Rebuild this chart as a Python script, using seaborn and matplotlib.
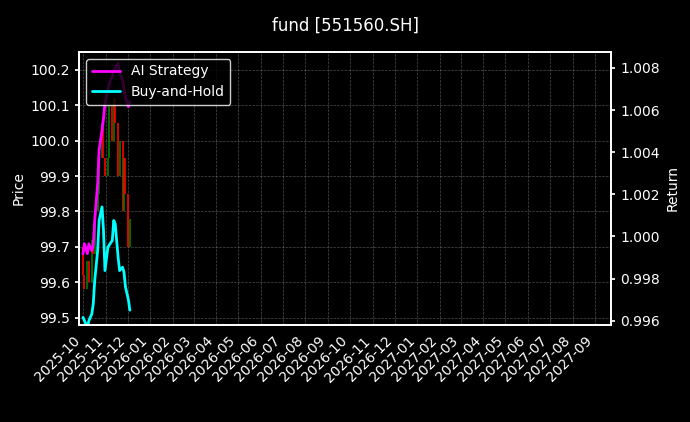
import matplotlib
matplotlib.use("Agg")
import matplotlib.pyplot as plt
import matplotlib.dates as mdates
import seaborn as sns
import pandas as pd

dates = pd.bdate_range("2025-10-01", periods=24, freq="2B")
strategy = [0.99918, 0.99965, 0.99918, 0.99965, 0.99933, 0.99960, 1.00076, 1.00251, 1.00410, 1.00505,
            1.00560, 1.00632, 1.00695, 1.00730, 1.00759, 1.00790, 1.00800, 1.00822, 1.00780, 1.00743,
            1.00700, 1.00660, 1.00616, 1.00640]
buyhold = [0.99616, 0.99600, 0.99568, 0.99600, 0.99632, 0.99680, 0.99790, 0.99933, 1.00076, 1.00140,
           1.00029, 0.99838, 0.99949, 0.99960, 0.99981, 1.00076, 1.00060, 0.99900, 0.99838, 0.99854,
           0.99830, 0.99760, 0.99700, 0.99650]
p_open = [99.70, 99.62, 99.58, 99.66, 99.60, 99.72, 99.68, 99.80, 99.85, 99.95, 100.05, 99.95,
          99.90, 99.95, 100.10, 100.00, 100.12, 100.05, 99.90, 100.00, 99.80, 99.95, 99.85, 99.70]
p_close = [99.62, 99.58, 99.66, 99.60, 99.72, 99.68, 99.80, 99.85, 99.95, 100.05, 99.95, 99.90,
           99.95, 100.10, 100.00, 100.12, 100.05, 99.90, 100.00, 99.80, 99.95, 99.85, 99.70, 99.78]

sns.set_theme(style="dark", rc={"font.size": 10})
plt.rcParams.update({"figure.facecolor": "black", "axes.facecolor": "black", "text.color": "white",
                     "axes.labelcolor": "white", "xtick.color": "white", "ytick.color": "white",
                     "axes.edgecolor": "white", "axes.labelsize": 10, "xtick.labelsize": 10,
                     "ytick.labelsize": 10, "legend.fontsize": 10})
plt.rcParams["font.family"] = ["DejaVu Sans"]

fig = plt.figure(figsize=(6.9, 4.22), dpi=100)
ax = fig.add_axes([0.115, 0.23, 0.771, 0.647])
for d, o, c in zip(dates, p_open, p_close):
    col = "green" if c >= o else "red"
    ax.vlines(d, min(o, c), max(o, c), color=col, linewidth=1.2)
ax.set_ylim(99.48, 100.25)
ax.set_ylabel("Price")
ax.grid(True, color="gray", linestyle="--", linewidth=0.5, alpha=0.6)

ax2 = ax.twinx()
df = pd.DataFrame({"date": dates, "AI Strategy": strategy, "Buy-and-Hold": buyhold})
sns.lineplot(data=df, x="date", y="AI Strategy", color="magenta", linewidth=2, ax=ax2, label="AI Strategy")
sns.lineplot(data=df, x="date", y="Buy-and-Hold", color="cyan", linewidth=2, ax=ax2, label="Buy-and-Hold")
ax2.set_ylim(0.9958, 1.00876)
ax2.set_ylabel("Return")
ax2.set_xlabel("")
ax2.legend(loc="upper left", facecolor="black", edgecolor="white", labelcolor="white")

ax.set_xlim(pd.Timestamp("2025-09-26"), pd.Timestamp("2027-09-23"))
ax.xaxis.set_major_locator(mdates.MonthLocator())
ax.xaxis.set_major_formatter(mdates.DateFormatter("%Y-%m"))
for lbl in ax.get_xticklabels():
    lbl.set_rotation(45)
    lbl.set_ha("right")
ax.tick_params(axis="both", length=3, colors="white")
ax2.tick_params(axis="y", length=3, colors="white")
for a in (ax, ax2):
    for s in a.spines.values():
        s.set_color("white")
fig.suptitle("fund [551560.SH]", color="white", y=0.96, fontsize=12)
fig.savefig("out.png", dpi=100, facecolor="black")
